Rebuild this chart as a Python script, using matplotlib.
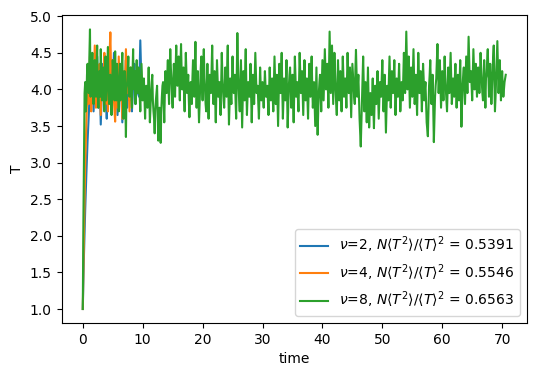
import numpy as np
import matplotlib
matplotlib.use("Agg")
import matplotlib.pyplot as plt

# nu = 2 run, sampled every 0.2, ends near t = 9.8
T_nu2 = [
    1.00, 1.75, 2.35, 2.85, 3.30, 3.65, 4.05, 3.80, 4.30, 3.70,
    4.15, 3.90, 4.45, 3.75, 4.20, 3.52, 4.05, 4.35, 3.80, 4.10,
    3.60, 4.40, 3.95, 4.25, 3.70, 4.00, 4.50, 3.85, 4.15, 3.65,
    4.30, 3.90, 4.05, 3.55, 4.20, 3.95, 4.40, 3.75, 4.10, 3.85,
    4.25, 3.70, 4.05, 4.35, 3.80, 4.15, 3.95, 3.90, 4.67, 4.05,
]

# nu = 4 run, sampled every 0.2, ends near t = 8.4
T_nu4 = [
    1.00, 2.05, 2.95, 3.55, 4.10, 3.80, 4.45, 3.70, 4.25, 3.95,
    4.60, 3.75, 4.15, 3.90, 4.35, 3.65, 4.20, 4.00, 4.50, 3.80,
    4.10, 3.70, 4.30, 4.78, 3.95, 4.40, 3.85, 3.56, 4.20, 3.75,
    4.45, 3.90, 4.10, 3.60, 4.25, 3.85, 4.55, 3.95, 4.15, 3.70,
    4.30, 4.00, 4.20,
]

# nu = 8 run, samples at t = 0, 0.2, 0.4, ... 70.6
T_nu8_even = [
    1.00, 3.15, 4.10, 3.85, 4.35, 3.95, 4.82, 4.05, 4.50, 3.80,
    4.40, 3.90, 4.60, 3.75, 4.25, 4.55, 3.85, 4.30, 3.70, 4.45,
    4.10, 4.58, 3.80, 4.20, 3.65, 4.40, 4.00, 4.52, 3.85, 4.15,
    3.70, 4.35, 4.05, 4.50, 3.60, 4.25, 3.35, 4.10, 4.45, 3.90,
    4.30, 3.75, 4.55, 4.00, 3.80, 4.40, 3.95, 4.20, 3.70, 4.35,
    3.85, 4.15, 3.60, 4.05, 3.75, 4.30, 3.55, 3.95, 4.20, 3.70,
    3.40, 3.85, 4.05, 3.30, 3.75, 3.27, 3.90, 4.10, 3.55, 4.25,
    3.95, 4.40, 3.80, 4.55, 4.10, 3.75, 4.35, 3.90, 4.60, 4.05,
    4.45, 3.85, 4.62, 4.00, 4.30, 3.70, 4.50, 3.95, 4.20, 3.62,
    4.10, 3.80, 4.40, 3.90, 4.65, 3.75, 4.25, 3.55, 4.05, 4.45,
    3.85, 4.55, 4.00, 3.70, 4.35, 3.60, 4.20, 3.95, 4.60, 3.80,
    4.25, 3.55, 4.40, 3.90, 4.10, 3.65, 4.50, 4.00, 3.75, 4.30,
    3.90, 4.60, 3.52, 4.15, 3.80, 4.45, 3.95, 4.20, 3.60, 4.77,
    4.05, 3.70, 4.40, 3.48, 4.25, 3.85, 4.55, 3.65, 4.10, 3.90,
    4.35, 3.55, 4.20, 3.80, 4.50, 3.95, 4.05, 3.60, 4.30, 3.85,
    4.10, 3.75, 4.25, 3.90, 4.05, 3.65, 4.30, 3.85, 4.15, 3.70,
    4.45, 3.80, 4.20, 3.50, 4.35, 3.95, 4.50, 3.60, 4.15, 3.85,
    4.40, 3.48, 4.05, 4.30, 3.75, 4.20, 3.55, 4.45, 3.90, 4.10,
    3.70, 4.50, 3.95, 4.25, 3.65, 4.40, 3.85, 4.15, 3.60, 4.35,
    3.90, 4.45, 3.75, 4.10, 3.50, 4.30, 3.38, 3.95, 4.20, 3.70,
    4.40, 3.85, 4.55, 4.00, 4.35, 3.75, 4.79, 3.95, 4.60, 3.80,
    4.50, 4.00, 3.65, 4.40, 3.85, 4.25, 3.70, 4.45, 3.90, 4.15,
    3.75, 4.50, 3.95, 4.30, 3.62, 4.35, 4.05, 3.80, 4.54, 3.90,
    4.20, 3.60, 3.22, 3.85, 4.45, 3.70, 4.10, 3.55, 4.30, 3.48,
    3.95, 3.65, 4.15, 3.47, 4.05, 3.80, 4.25, 3.60, 4.10, 3.90,
    4.40, 3.70, 4.20, 3.41, 4.05, 3.85, 4.45, 3.75, 4.25, 3.95,
    4.40, 3.65, 4.15, 3.90, 4.35, 3.70, 4.10, 3.85, 4.50, 3.95,
    4.79, 4.00, 4.45, 3.75, 4.30, 3.90, 4.55, 3.80, 4.20, 3.65,
    4.50, 3.95, 4.25, 3.70, 4.35, 3.85, 4.10, 3.55, 3.36, 4.05,
    4.40, 3.80, 4.20, 3.28, 3.90, 4.15, 4.62, 3.95, 4.40, 3.75,
    4.25, 3.85, 4.45, 4.00, 3.70, 4.30, 3.95, 4.50, 3.80, 4.15,
    3.90, 4.35, 3.75, 4.20, 3.85, 4.40, 3.49, 4.05, 4.30, 3.80,
    4.45, 3.95, 4.72, 4.10, 4.25, 3.85, 4.55, 4.00, 4.35, 3.90,
    4.30, 3.95, 4.50, 4.10, 3.85, 4.40, 3.75, 4.20, 4.55, 3.90,
    4.35, 3.80, 4.25, 4.60, 3.70, 4.15, 4.66, 3.95, 4.40, 3.85,
    4.25, 3.90, 4.10, 4.20,
]

# nu = 8 run, samples at t = 0.1, 0.3, 0.5, ... 70.5
T_nu8_odd = [
    2.20, 3.95, 3.70, 4.20, 4.10, 4.45, 3.90, 4.30, 4.05, 4.15,
    4.05, 4.35, 3.95, 4.10, 3.90, 4.20, 4.05, 3.95, 4.25, 3.85,
    4.30, 4.00, 4.15, 3.90, 4.05, 4.20, 3.85, 4.10, 4.35, 3.95,
    4.10, 3.85, 4.30, 3.95, 4.05, 3.80, 4.00, 4.25, 4.05, 4.15,
    3.95, 4.20, 4.05, 4.25, 4.10, 4.05, 4.30, 3.90, 4.05, 4.10,
    3.95, 3.85, 3.90, 3.80, 4.05, 3.90, 3.75, 4.10, 3.85, 3.60,
    3.70, 3.95, 3.65, 3.60, 3.50, 3.70, 4.05, 3.80, 3.95, 4.05,
    4.20, 4.05, 4.25, 4.30, 3.90, 4.10, 4.15, 4.30, 4.25, 4.20,
    4.10, 4.30, 4.25, 4.15, 3.95, 4.15, 4.20, 4.05, 3.85, 3.90,
    3.95, 4.15, 4.10, 4.30, 4.15, 4.05, 3.85, 3.80, 4.30, 4.10,
    4.25, 4.20, 3.80, 4.05, 3.90, 3.95, 4.05, 4.30, 4.15, 4.05,
    3.85, 4.00, 4.15, 4.00, 3.85, 4.10, 4.20, 3.85, 4.05, 4.05,
    4.30, 4.00, 3.80, 3.95, 4.15, 4.15, 4.05, 3.85, 4.20, 4.35,
    3.85, 4.05, 3.90, 3.90, 4.00, 4.25, 4.05, 3.90, 3.95, 4.10,
    3.90, 3.85, 4.00, 4.15, 4.20, 4.00, 3.80, 3.95, 4.05, 4.00,
    3.90, 4.00, 4.05, 3.95, 3.85, 4.00, 4.05, 4.00, 3.90, 4.10,
    4.10, 4.00, 3.85, 3.90, 4.20, 4.25, 4.00, 3.90, 4.00, 4.10,
    3.90, 3.75, 4.20, 4.00, 3.95, 3.85, 4.00, 4.15, 4.00, 3.90,
    4.10, 4.20, 4.10, 3.95, 4.00, 4.10, 4.00, 3.85, 3.95, 4.15,
    4.20, 4.05, 3.90, 3.80, 3.90, 3.85, 3.70, 4.10, 3.95, 4.05,
    4.10, 4.20, 4.25, 4.15, 4.05, 4.30, 4.35, 4.30, 4.20, 4.15,
    4.25, 3.80, 4.00, 4.10, 4.05, 3.95, 4.10, 4.15, 4.05, 3.95,
    4.10, 4.20, 4.15, 3.95, 4.00, 4.20, 3.90, 4.25, 4.20, 4.05,
    3.90, 3.40, 3.55, 4.15, 4.05, 3.90, 3.80, 3.95, 3.85, 3.70,
    3.80, 3.90, 3.75, 3.80, 3.90, 4.05, 3.90, 3.85, 4.00, 4.15,
    4.05, 3.95, 3.80, 3.75, 3.95, 4.15, 4.10, 4.00, 4.10, 4.15,
    4.05, 3.90, 4.05, 4.10, 4.00, 3.90, 3.95, 4.20, 4.25, 4.35,
    4.40, 4.25, 4.10, 4.05, 4.10, 4.25, 4.20, 4.00, 3.90, 4.05,
    4.20, 4.10, 4.00, 4.05, 4.15, 4.00, 3.80, 3.45, 3.70, 4.20,
    4.10, 4.00, 3.70, 3.60, 4.05, 4.40, 4.30, 4.15, 4.05, 4.00,
    4.05, 4.15, 4.20, 3.85, 4.00, 4.15, 4.25, 4.15, 3.95, 4.05,
    4.15, 4.05, 4.00, 4.05, 4.10, 3.95, 3.75, 4.20, 4.05, 4.10,
    4.20, 4.35, 4.40, 4.15, 4.05, 4.20, 4.25, 4.15, 4.10, 4.10,
    4.15, 4.20, 4.30, 3.95, 4.10, 4.05, 4.15, 4.40, 4.20, 4.10,
    4.05, 4.00, 4.45, 4.15, 3.90, 4.40, 4.30, 4.15, 4.10, 4.05,
    4.05, 4.00, 4.15,
]

nus = [2, 4, 8]
ratios = [0.5391, 0.5546, 0.6563]

# merge the two nu=8 sample sets into one trace
T_nu8 = np.empty(len(T_nu8_even) + len(T_nu8_odd))
T_nu8[0::2] = T_nu8_even
T_nu8[1::2] = T_nu8_odd

runs = [(T_nu2, 0.2), (T_nu4, 0.2), (T_nu8, 0.1)]

fig, ax = plt.subplots(figsize=(5.36, 3.76), dpi=100)
fig.subplots_adjust(left=0.115, right=0.983, top=0.959, bottom=0.141)

for nu, r, (T, dt) in zip(nus, ratios, runs):
    t = np.arange(len(T)) * dt
    label = r'$\nu$=%d, $N\langle T^2\rangle/\langle T\rangle^2$ = %.4f' % (nu, r)
    ax.plot(t, T, label=label)

ax.set_xlabel('time')
ax.set_ylabel('T')
ax.legend(loc='lower right')

fig.savefig('out.png', dpi=100)
